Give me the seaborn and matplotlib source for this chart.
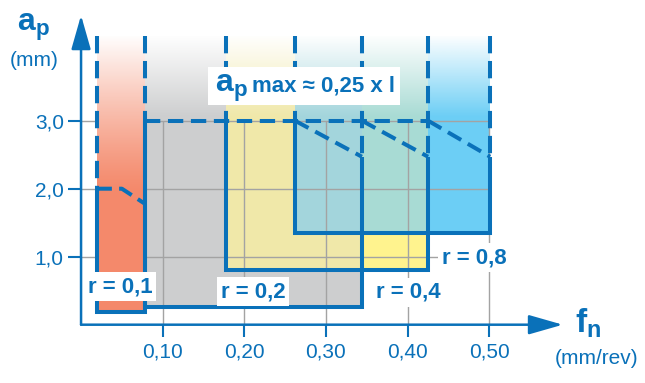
import numpy as np
import matplotlib
matplotlib.use("Agg")
import matplotlib.pyplot as plt
import matplotlib.patches as mpatches
import seaborn as sns

# ---------------- data ----------------
radius_labels = ["r = 0,1", "r = 0,2", "r = 0,4", "r = 0,8"]
f_min = [0.020, 0.078, 0.178, 0.262]     # feed start of each radius window (mm/rev)
f_max = [0.078, 0.344, 0.425, 0.501]     # feed end
f_knee = [0.050, 0.262, 0.344, 0.425]    # feed where the max depth starts to drop
ap_min = [0.18, 0.26, 0.81, 1.35]        # min depth of cut (mm)
ap_top = [2.0, 3.0, 3.0, 3.0]            # max depth of cut (mm)
ap_end = [1.78, 2.47, 2.47, 2.47]        # max depth at the end feed
label_f = [0.0477, 0.2105, 0.4003, 0.4819]
label_ap = [0.479, 0.407, 0.393, 0.907]

x_ticks = [0.10, 0.20, 0.30, 0.40, 0.50]
x_tick_labels = ["0,10", "0,20", "0,30", "0,40", "0,50"]
y_ticks = [1.0, 2.0, 3.0]
y_tick_labels = ["1,0", "2,0", "3,0"]

# ---------------- style ----------------
sns.set_theme(style="white")
plt.rcParams["font.family"] = ["Liberation Sans", "DejaVu Sans"]
plt.rcParams["mathtext.fontset"] = "custom"
plt.rcParams["mathtext.bf"] = "Liberation Sans:bold"
plt.rcParams["mathtext.rm"] = "Liberation Sans"
plt.rcParams["mathtext.it"] = "Liberation Sans:italic"

BLUE = "#0a71b9"
GRID = "#a3a3a3"
box_colors = ["#f4896b", "#cdcecf", "#fff38e", "#6ccef5"]
col_yel_gray = "#f0e8a9"
col_teal_yel = "#a8dbd4"
col_teal_all = "#a3d5dc"
FILL_TOP = 4.25

W, H = 645, 383
fig = plt.figure(figsize=(W / 100, H / 100), dpi=100)
x0_px, y0_px = 81.05, 324.7
sx, sy = 816.5, 68.0
XMAX, YMAX = 0.6, 4.6
ax = fig.add_axes([x0_px / W, (H - y0_px) / H, XMAX * sx / W, YMAX * sy / H])
ax.set_xlim(0, XMAX)
ax.set_ylim(0, YMAX)
for s in ax.spines.values():
    s.set_visible(False)
ax.grid(False)


def rect(xa, xb, ya, yb, color, z):
    ax.bar(xa, yb - ya, width=xb - xa, bottom=ya, align="edge",
           color=color, linewidth=0, zorder=z)


# main fills (gray, yellow, blue) with overlap colours
rect(f_min[1], f_max[1], ap_min[1], FILL_TOP, box_colors[1], 1)
rect(f_min[2], f_max[2], ap_min[2], FILL_TOP, box_colors[2], 1.05)
rect(max(f_min[1], f_min[2]), min(f_max[1], f_max[2]),
     max(ap_min[1], ap_min[2]), FILL_TOP, col_yel_gray, 1.1)
rect(f_min[3], f_max[3], ap_min[3], FILL_TOP, box_colors[3], 1.15)
rect(max(f_min[2], f_min[3]), min(f_max[2], f_max[3]),
     max(ap_min[2], ap_min[3]), FILL_TOP, col_teal_yel, 1.2)
rect(max(f_min[1], f_min[2], f_min[3]), min(f_max[1], f_max[2], f_max[3]),
     max(ap_min[1], ap_min[2], ap_min[3]), FILL_TOP, col_teal_all, 1.25)

# white fade on top
grad = np.ones((256, 1, 4))
grad[:, 0, 3] = np.linspace(0, 1, 256)
ax.imshow(grad, extent=[f_min[1], f_max[3], 3.05, FILL_TOP], origin="lower",
          aspect="auto", interpolation="bilinear", zorder=1.5)

# grid
ax.vlines(x_ticks, 0, max(ap_top), color=GRID, lw=1.0, zorder=2)
ax.hlines(y_ticks, 0, max(x_ticks), color=GRID, lw=1.0, zorder=2)

# orange (r = 0,1) fill with its own fade
rect(f_min[0], f_max[0], ap_min[0], FILL_TOP, box_colors[0], 2.5)
grad2 = np.ones((256, 1, 4))
grad2[:, 0, 3] = np.linspace(0, 1, 256) ** 1.2
ax.imshow(grad2, extent=[f_min[0], f_max[0], 1.95, FILL_TOP], origin="lower",
          aspect="auto", interpolation="bilinear", zorder=2.6)
ax.set_xlim(0, XMAX)
ax.set_ylim(0, YMAX)

LW = 2.9
DASH = (0, (4.3, 1.9))

# dashed vertical extensions (one per distinct edge, drawn from the top down)
edges = {}
for i in range(4):
    edges[f_min[i]] = min(edges.get(f_min[i], 99), ap_top[i])
    edges[f_max[i]] = min(edges.get(f_max[i], 99), ap_end[i])
for xe, ys in edges.items():
    ax.plot([xe, xe], [FILL_TOP, ys], color=BLUE, lw=LW, ls=DASH,
            dash_capstyle="butt", zorder=4)

# dashed max-depth lines
ax.plot([f_min[0], f_knee[0], f_max[0]], [ap_top[0], ap_top[0], ap_end[0]],
        color=BLUE, lw=LW, ls=(0, (3.6, 1.8)), dash_capstyle="butt", zorder=4)
ax.plot([min(f_min[1:]), max(f_knee[1:])], [ap_top[1], ap_top[1]],
        color=BLUE, lw=LW, ls=(0, (3.8, 1.9)), dash_capstyle="butt", zorder=4)
for i in range(1, 4):
    ax.plot([f_knee[i], f_max[i]], [ap_top[i], ap_end[i]],
            color=BLUE, lw=LW, ls=(0, (3.8, 1.9)), dash_capstyle="butt",
            zorder=4)

# solid outlines
for i in range(4):
    sns.lineplot(x=[f_min[i], f_min[i], f_max[i], f_max[i]],
                 y=[ap_top[i], ap_min[i], ap_min[i], ap_end[i]],
                 sort=False, estimator=None, ax=ax, color=BLUE, lw=LW,
                 solid_joinstyle="miter", solid_capstyle="butt", zorder=4.5)

# radius labels
for i in range(4):
    ax.text(label_f[i], label_ap[i], radius_labels[i], color=BLUE,
            fontsize=16, fontweight="bold", ha="center", va="baseline",
            zorder=6,
            bbox=dict(boxstyle="square,pad=0.18", fc="white", ec="none"))

# ap max annotation
ax.add_patch(mpatches.Rectangle((0.1555, 3.231), 0.2351, 0.559,
                                facecolor="white", edgecolor="none", zorder=5))
ax.text(0.1640, 3.426, r"$\mathbf{a_p}$", color=BLUE, fontsize=23,
        ha="left", va="baseline", zorder=6)
ax.text(0.2090, 3.426, "max ≈ 0,25 x l", color=BLUE, fontsize=16,
        fontweight="bold", ha="left", va="baseline", zorder=6)

# ticks
ax.set_xticks(x_ticks)
ax.set_xticklabels(x_tick_labels)
ax.set_yticks(y_ticks)
ax.set_yticklabels(y_tick_labels)
ax.tick_params(axis="x", bottom=True, direction="out", length=8.6, width=1.5,
               color=BLUE, labelcolor=BLUE, labelsize=15, pad=4)
ax.tick_params(axis="y", left=True, direction="out", length=9.4, width=1.5,
               color=BLUE, labelcolor=BLUE, labelsize=15, pad=3)

# axis arrows
arrow_kw = dict(arrowstyle="-|>,head_length=2.1,head_width=0.6", color=BLUE,
                lw=1.8, shrinkA=0, shrinkB=0, mutation_scale=10)
ax.annotate("", xy=(0, 4.55), xytext=(0, 0), arrowprops=arrow_kw, zorder=7)
ax.annotate("", xy=(0.590, 0), xytext=(0, 0), arrowprops=arrow_kw, zorder=7)

# axis titles
fig.text(17 / W, 1 - 31 / H, r"$\mathbf{a_p}$", color=BLUE, fontsize=23,
         ha="left", va="baseline")
fig.text(10 / W, 1 - 61 / H, "(mm)", color=BLUE, fontsize=15,
         ha="left", va="center")
fig.text(575 / W, 1 - 333 / H, r"$\mathbf{f_n}$", color=BLUE, fontsize=24,
         ha="left", va="baseline")
fig.text(555 / W, 1 - 358 / H, "(mm/rev)", color=BLUE, fontsize=15,
         ha="left", va="center")

fig.savefig("out.png", dpi=100)
